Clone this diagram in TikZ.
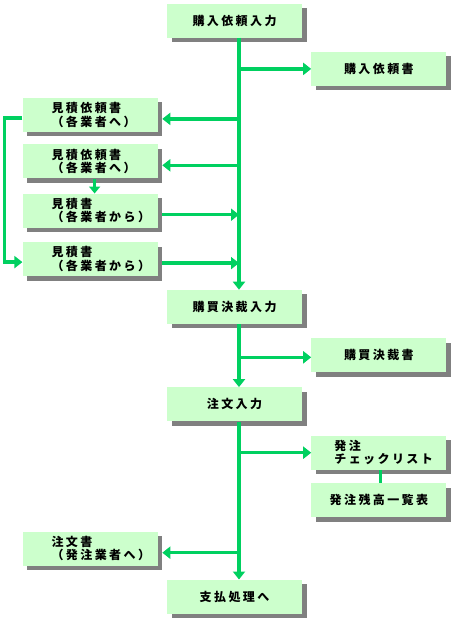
\documentclass[tikz,border=0pt]{standalone}
\usepackage{fontspec}
\newfontfamily\jpfont{Noto Sans CJK JP}[LetterSpace=20]
\usetikzlibrary{arrows.meta,positioning,shadows}
\definecolor{boxgreen}{HTML}{CCFFCC}
\definecolor{flowgreen}{HTML}{00D060}
\definecolor{shadowgray}{HTML}{808080}

\begin{document}
\begin{tikzpicture}[
    every node/.style={font=\jpfont\bfseries\fontsize{12}{13.5}\selectfont},
    box/.style={rectangle, fill=boxgreen, draw=none, inner sep=0pt, minimum width=135pt, minimum height=34pt,
        drop shadow={shadow xshift=4.5pt, shadow yshift=-4.5pt, fill=shadowgray, opacity=1}},
    twoline/.style={box, align=left, text width=77pt, inner xsep=29pt},
    flow/.style={-{Triangle[length=8pt,width=12pt]}, line width=3.5pt, draw=flowgreen},
    link/.style={line width=3.5pt, draw=flowgreen}
]
\useasboundingbox (0,0) rectangle (453pt,-622pt);
% 購買の流れ
\node[box] (req) at (234.5pt,-20.5pt) {購入依頼入力};
\node[box, below right=14pt and 9pt of req] (reqdoc) {購入依頼書};

\node[twoline, below left=60pt and 9pt of req] (est1) {見積依頼書\\（各業者へ）};
\node[twoline, below=12pt of est1] (est2) {見積依頼書\\（各業者へ）};
\node[twoline, below=15pt of est2] (est3) {見積書\\（各業者から）};
\node[twoline, below=14pt of est3] (est4) {見積書\\（各業者から）};

\node[box, below=252pt of req] (dec) {購買決裁入力};
\node[box, below right=14pt and 9pt of dec] (decdoc) {購買決裁書};

\node[box, below=63pt of dec] (order) {注文入力};
\node[twoline, below right=14pt and 9pt of order, inner xsep=23pt, text width=89pt] (chk) {発注\\チェックリスト};
\node[box, below=13pt of chk] (bal) {発注残高一覧表};
\node[twoline, below left=110pt and 9pt of order] (orddoc) {注文書\\（発注業者へ）};

\node[box, below=158pt of order] (pay) {支払処理へ};

\coordinate (t1) at ([xshift=4.5pt]req.south);
\coordinate (t2) at ([xshift=4.5pt]dec.south);
\coordinate (t3) at ([xshift=4.5pt]order.south);

\draw[flow] (t1) -- (t1 |- dec.north);
\draw[flow] (t1 |- reqdoc.west) -- (reqdoc.west);
\draw[flow] (t1 |- est1.east) ++(0,-4pt) -- ([xshift=4.5pt,yshift=-4pt]est1.east);
\draw[flow] (t1 |- est2.east) ++(0,-4pt) -- ([xshift=4.5pt,yshift=-4pt]est2.east);
\draw[flow] ([xshift=4.5pt,yshift=-4pt]est3.east) -- ([yshift=-4pt]t1 |- est3.east);
\draw[flow] ([xshift=4.5pt,yshift=-4pt]est4.east) -- ([yshift=-4pt]t1 |- est4.east);
\draw[flow] ([yshift=-3pt]est1.west) -- ++(-18pt,0) |- ([yshift=-3pt]est4.west);
\draw[flow, -{Triangle[length=7pt,width=11pt]}] ([xshift=4.5pt]est2.south) -- ([xshift=4.5pt]est3.north);

\draw[flow] (t2) -- (t2 |- order.north);
\draw[flow] ([yshift=-2pt]t2 |- decdoc.west) -- ([yshift=-2pt]decdoc.west);

\draw[flow] (t3) -- (t3 |- pay.north);
\draw[flow] (t3 |- chk.west) -- (chk.west);
\draw[link] ([xshift=1.5pt]chk.south) -- ([xshift=1.5pt]bal.north);
\draw[flow] ([yshift=-4pt]t3 |- orddoc.east) -- ([xshift=4.5pt,yshift=-4pt]orddoc.east);
\end{tikzpicture}
\end{document}
